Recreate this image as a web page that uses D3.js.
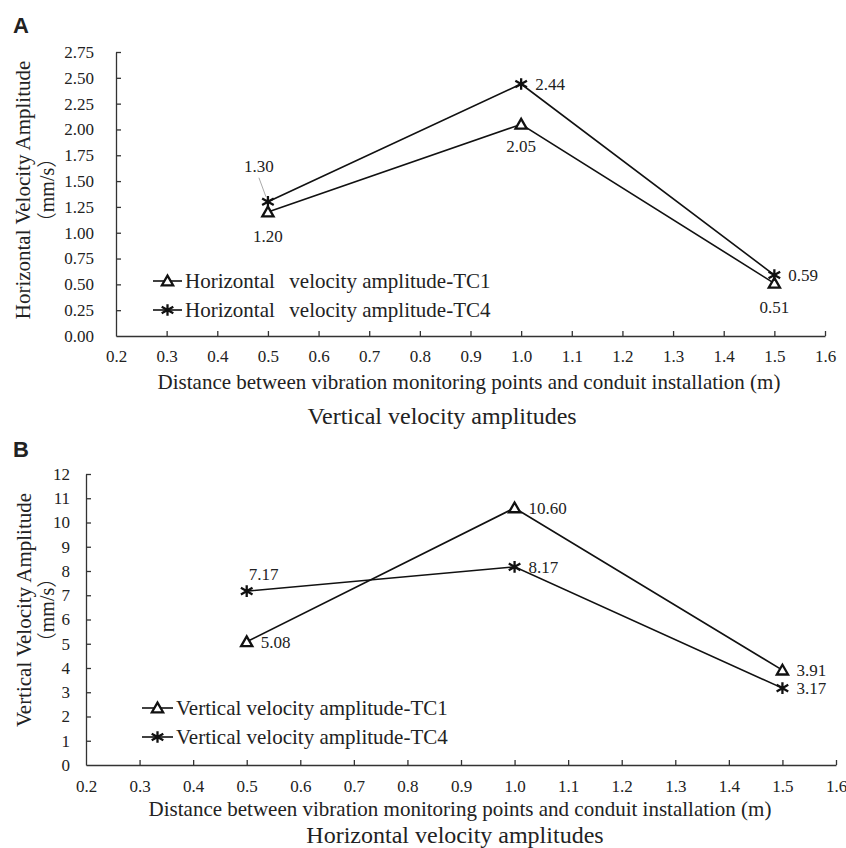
<!DOCTYPE html>
<html>
<head>
<meta charset="utf-8">
<script src="https://cdn.jsdelivr.net/npm/d3@7"></script>
<style>
  html, body { margin: 0; padding: 0; background: #fff; }
  svg text { font-family: "Liberation Serif", "Times New Roman", serif; fill: #222; }
</style>
</head>
<body>
<svg id="fig" width="846" height="848"></svg>
<script>
// Distances of the monitoring points (m)
const distances = [0.5, 1.0, 1.5];

// Panel A: horizontal velocity amplitudes (mm/s)
const horizTC1 = [1.20, 2.05, 0.51];
const horizTC4 = [1.30, 2.44, 0.59];

// Panel B: vertical velocity amplitudes (mm/s)
const vertTC1 = [5.08, 10.60, 3.91];
const vertTC4 = [7.17, 8.17, 3.17];

// Axis ticks
const xTicks = [0.2, 0.3, 0.4, 0.5, 0.6, 0.7, 0.8, 0.9, 1.0, 1.1, 1.2, 1.3, 1.4, 1.5, 1.6];
const yTicksA = [0, 0.25, 0.5, 0.75, 1.0, 1.25, 1.5, 1.75, 2.0, 2.25, 2.5, 2.75];
const yTicksB = [0, 1, 2, 3, 4, 5, 6, 7, 8, 9, 10, 11, 12];

const svg = d3.select("#fig");

const trianglePath = "M0,-5.4L5.6,4.3L-5.6,4.3Z";
const asteriskPath = "M0,-5.8V5.8M-5.8,-3.3L5.8,3.3M-5.8,3.3L5.8,-3.3";

function drawMarker(g, type, x, y) {
  if (type === "tri") {
    g.append("path").attr("d", trianglePath)
      .attr("transform", `translate(${x},${y})`)
      .attr("fill", "#fff").attr("stroke", "#111").attr("stroke-width", 2.3);
  } else {
    g.append("path").attr("d", asteriskPath)
      .attr("transform", `translate(${x},${y})`)
      .attr("fill", "none").attr("stroke", "#111").attr("stroke-width", 2.3);
  }
}

function panel(cfg) {
  const g = svg.append("g");
  const x = d3.scaleLinear().domain([0.2, 1.6]).range(cfg.xRange);
  const y = d3.scaleLinear().domain([0, cfg.yMax]).range(cfg.yRange);

  // axes with inward ticks
  const xAxis = d3.axisBottom(x).tickValues(xTicks).tickFormat(d3.format(".1f"))
    .tickSizeInner(-5).tickSizeOuter(0).tickPadding(cfg.xPad);
  const yAxis = d3.axisLeft(y).tickValues(cfg.yTicks).tickFormat(d3.format(cfg.yFmt))
    .tickSizeInner(-5).tickSizeOuter(0).tickPadding(cfg.yPad);

  const gx = g.append("g").attr("transform", `translate(0,${cfg.yRange[0]})`).call(xAxis);
  const gy = g.append("g").attr("transform", `translate(${cfg.xRange[0]},0)`).call(yAxis);
  [gx, gy].forEach(a => {
    a.attr("font-family", null);
    a.select(".domain").attr("stroke", "#333").attr("stroke-width", 1.3);
    a.selectAll(".tick line").attr("stroke", "#333").attr("stroke-width", 1.3);
    a.selectAll(".tick text")
      .attr("font-size", cfg.tickFont).attr("fill", "#222");
  });
  gx.selectAll(".tick").filter(d => d === 0.2).select("line").remove();
  gy.selectAll(".tick").filter(d => d === 0).select("line").remove();

  const line = d3.line().x((d, i) => x(distances[i])).y(d => y(d));
  cfg.series.forEach(s => {
    g.append("path").datum(s.values).attr("d", line)
      .attr("fill", "none").attr("stroke", "#111").attr("stroke-width", 1.6);
  });
  cfg.series.forEach(s => {
    s.values.forEach((v, i) => drawMarker(g, s.marker, x(distances[i]), y(v)));
  });

  // value labels
  cfg.series.forEach(s => {
    s.values.forEach((v, i) => {
      const o = s.labelOffsets[i];
      const px = x(distances[i]), py = y(v);
      if (o.leader) {
        g.append("line").attr("x1", px + o.leader[0]).attr("y1", py + o.leader[1])
          .attr("x2", px - 2).attr("y2", py - 5)
          .attr("stroke", "#aaa").attr("stroke-width", 1);
      }
      g.append("text").attr("x", px + o.dx).attr("y", py + o.dy)
        .attr("text-anchor", o.anchor).attr("font-size", cfg.labelFont)
        .text(v.toFixed(2));
    });
  });

  // axis titles
  g.append("text").attr("x", cfg.xTitle[0]).attr("y", cfg.xTitle[1])
    .attr("text-anchor", "middle").attr("font-size", cfg.titleFont).text(cfg.xLabel);
  const yc = cfg.yTitleCenter;
  g.append("text").attr("transform", `translate(${cfg.yTitleX[0]},${yc}) rotate(-90)`)
    .attr("text-anchor", "middle").attr("font-size", cfg.titleFont).text(cfg.yLabel);
  const unit = g.append("text").attr("transform", `translate(${cfg.yTitleX[1]},${yc}) rotate(-90)`)
    .attr("text-anchor", "middle").attr("font-size", cfg.titleFont - 1);
  unit.append("tspan").style("font-family", "'Noto Sans CJK SC'").attr("font-weight", 300).text("（");
  unit.append("tspan").text("mm/s");
  unit.append("tspan").style("font-family", "'Noto Sans CJK SC'").attr("font-weight", 300).text("）");

  // legend
  cfg.series.forEach((s, i) => {
    const ly = cfg.legend[1] + i * cfg.legend[3];
    const lx = cfg.legend[0];
    g.append("line").attr("x1", lx).attr("x2", lx + cfg.legend[2]).attr("y1", ly).attr("y2", ly)
      .attr("stroke", "#111").attr("stroke-width", 1.6);
    drawMarker(g, s.marker, lx + cfg.legend[2] / 2, ly);
    const t = g.append("text").attr("x", lx + cfg.legend[2] + 3).attr("y", ly + 7)
      .attr("font-size", cfg.legendFont).style("white-space", "pre");
    // a wide double space separates the first word in panel A's legend
    const parts = s.name.split("  ");
    t.append("tspan").text(parts[0] + (parts.length > 1 ? "  " : ""));
    if (parts.length > 1) t.append("tspan").attr("dx", 4).text(parts[1]);
  });

  // chart subtitle below
  g.append("text").attr("x", cfg.subtitle[0]).attr("y", cfg.subtitle[1])
    .attr("text-anchor", "middle").attr("font-size", 24).text(cfg.subtitleText);

  // panel letter
  g.append("text").attr("x", cfg.letter[0]).attr("y", cfg.letter[1])
    .attr("font-weight", "bold").attr("font-size", 22)
    .style("font-family", "'Liberation Sans', Arial, sans-serif")
    .attr("fill", "#111").text(cfg.letterText);
}

panel({
  xRange: [116, 825], yRange: [336, 52], yMax: 2.75, yTicks: yTicksA, yFmt: ".2f",
  xPad: 14, yPad: 22, tickFont: 17, labelFont: 17, titleFont: 21, legendFont: 21,
  xLabel: "Distance between vibration monitoring points and conduit installation (m)",
  xTitle: [469, 389],
  yLabel: "Horizontal Velocity Amplitude", yTitleX: [30, 54], yTitleCenter: 190,
  legend: [153, 281, 29, 29],
  subtitle: [442, 424], subtitleText: "Vertical velocity amplitudes",
  letter: [13, 33], letterText: "A",
  series: [
    { name: "Horizontal  velocity amplitude-TC1", marker: "tri", values: horizTC1,
      labelOffsets: [
        { dx: 0, dy: 30, anchor: "middle" },
        { dx: 0, dy: 28, anchor: "middle" },
        { dx: 0, dy: 30, anchor: "middle" }
      ] },
    { name: "Horizontal  velocity amplitude-TC4", marker: "asterisk", values: horizTC4,
      labelOffsets: [
        { dx: -9, dy: -30, anchor: "middle", leader: [-9, -24] },
        { dx: 14, dy: 6, anchor: "start" },
        { dx: 14, dy: 6, anchor: "start" }
      ] }
  ]
});

panel({
  xRange: [86, 836], yRange: [765, 474], yMax: 12, yTicks: yTicksB, yFmt: "d",
  xPad: 15, yPad: 16, tickFont: 17, labelFont: 17, titleFont: 21, legendFont: 21,
  xLabel: "Distance between vibration monitoring points and conduit installation (m)",
  xTitle: [460, 816],
  yLabel: "Vertical Velocity Amplitude", yTitleX: [31, 54], yTitleCenter: 610,
  legend: [142, 708, 31, 29],
  subtitle: [455, 843], subtitleText: "Horizontal velocity amplitudes",
  letter: [13, 457], letterText: "B",
  series: [
    { name: "Vertical velocity amplitude-TC1", marker: "tri", values: vertTC1,
      labelOffsets: [
        { dx: 14, dy: 6, anchor: "start" },
        { dx: 14, dy: 6, anchor: "start" },
        { dx: 14, dy: 6, anchor: "start" }
      ] },
    { name: "Vertical velocity amplitude-TC4", marker: "asterisk", values: vertTC4,
      labelOffsets: [
        { dx: 2, dy: -11, anchor: "start" },
        { dx: 14, dy: 6, anchor: "start" },
        { dx: 14, dy: 6, anchor: "start" }
      ] }
  ]
});
</script>
</body>
</html>
